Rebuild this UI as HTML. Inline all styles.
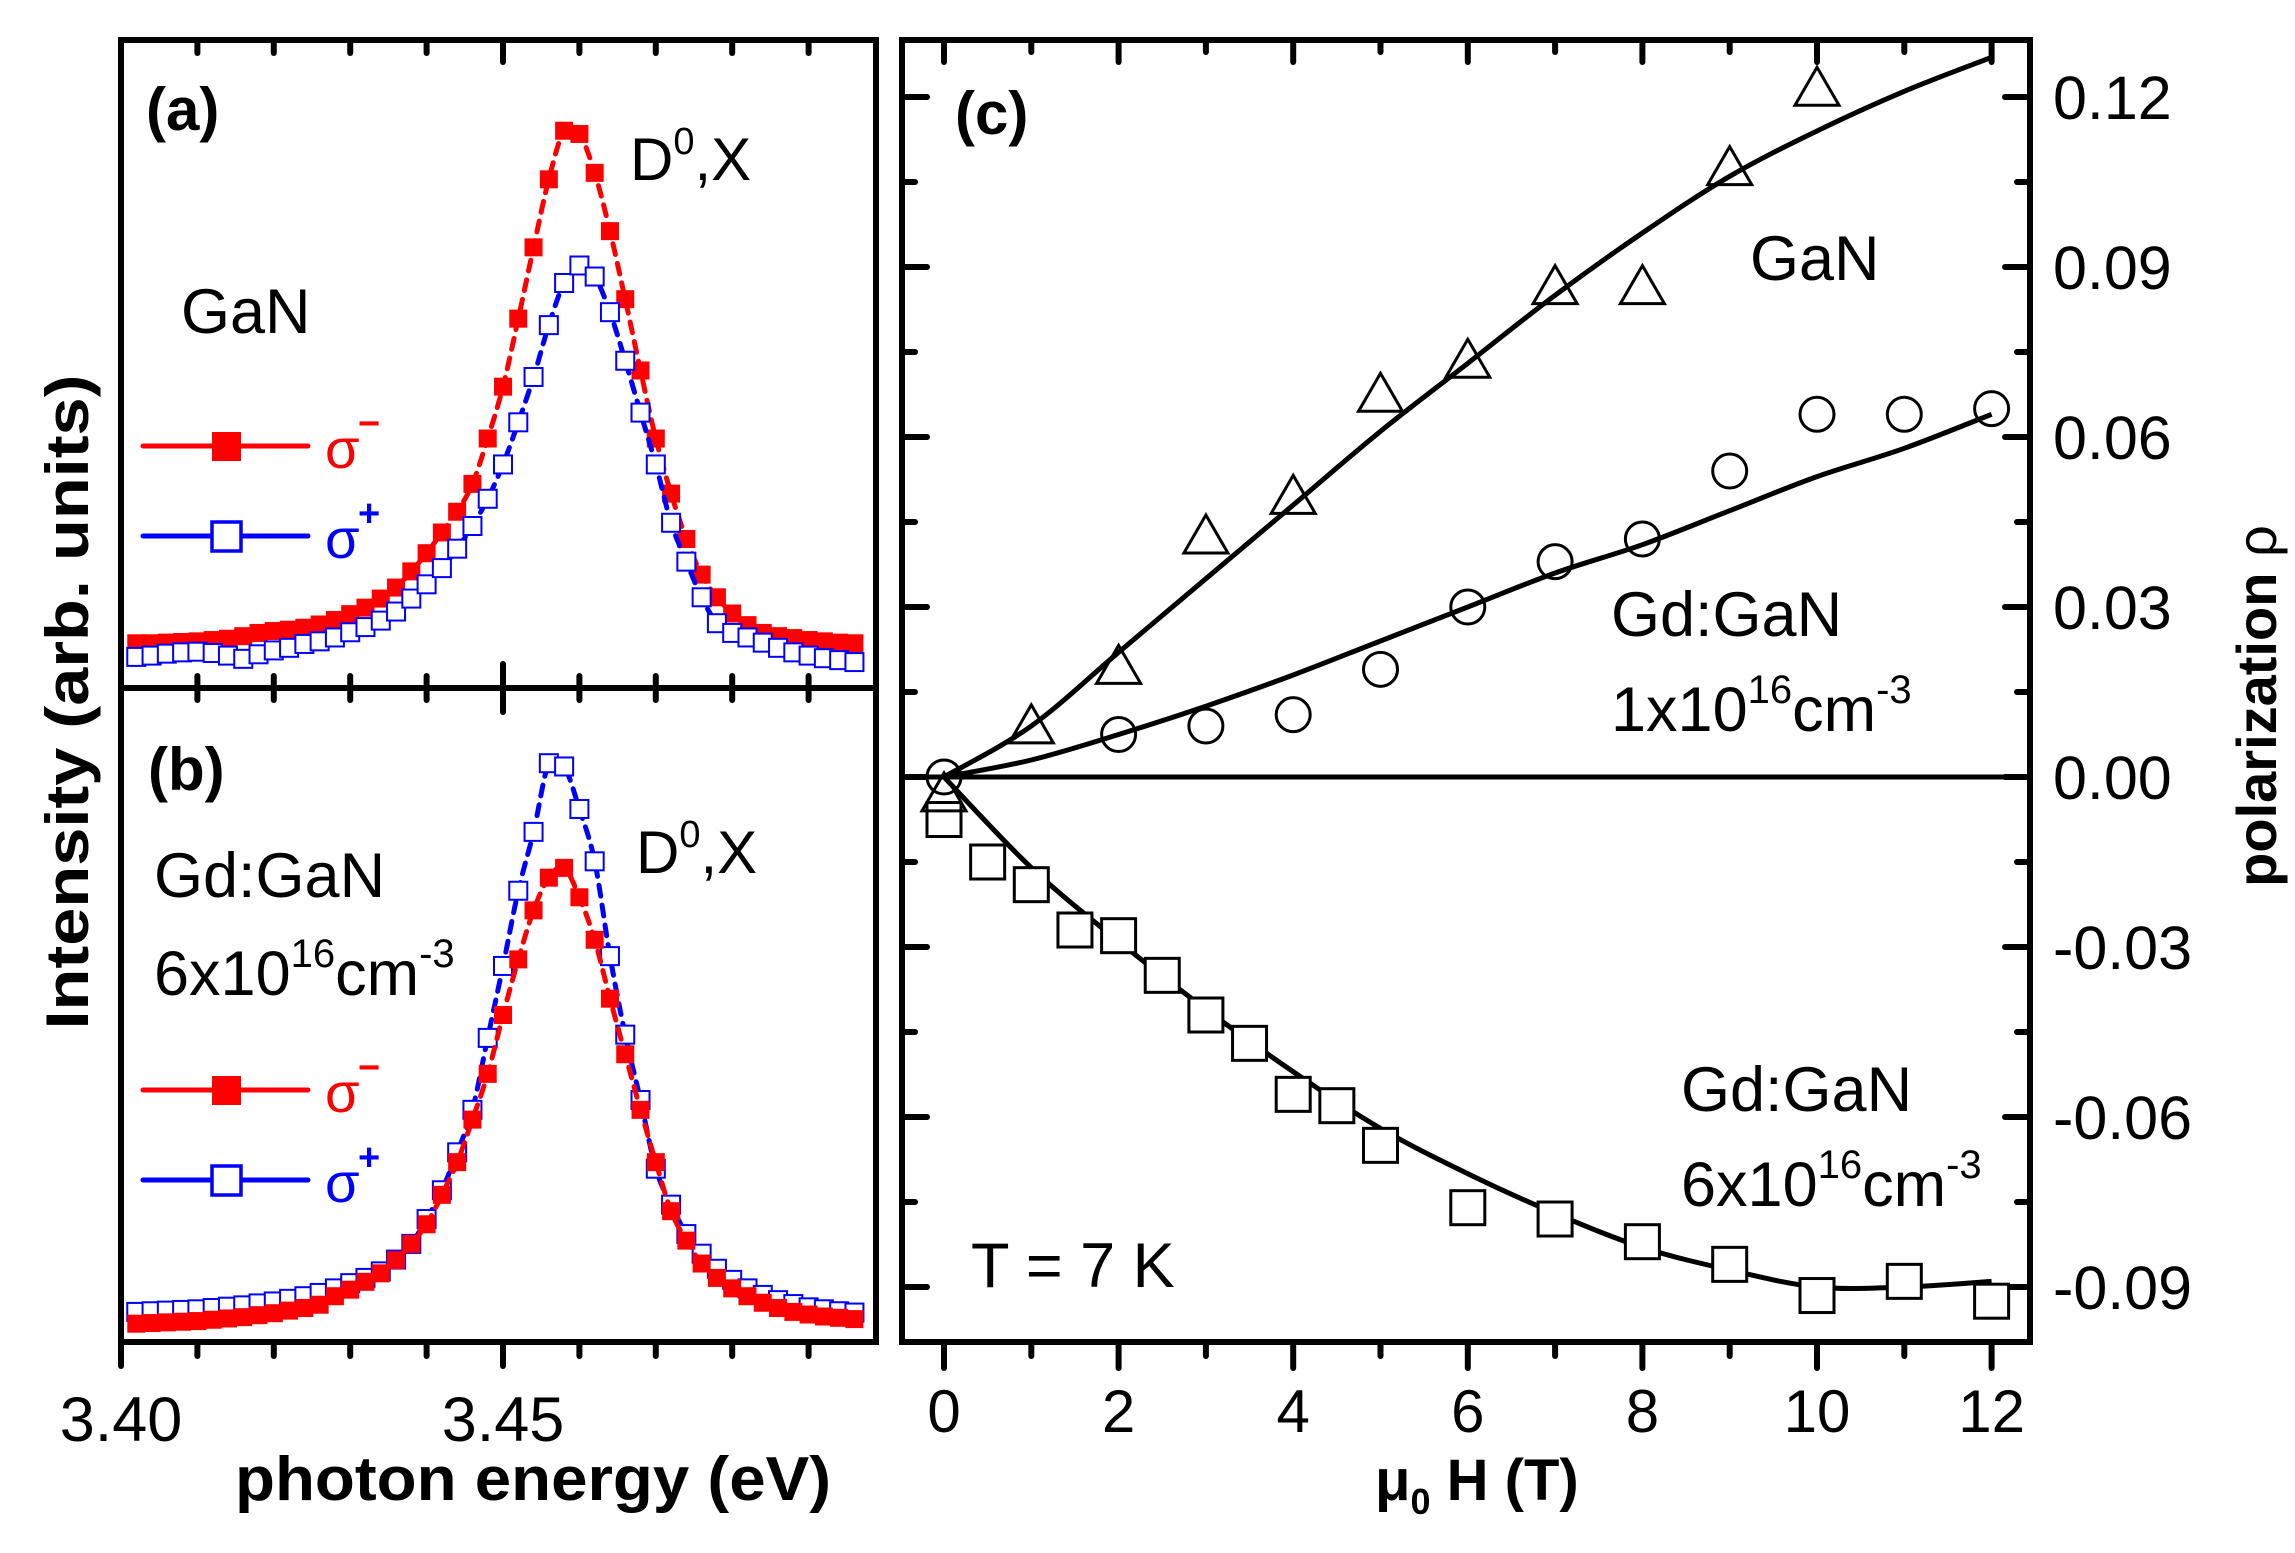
<!DOCTYPE html>
<html><head><meta charset="utf-8"><style>
html,body{margin:0;padding:0;background:#fff;}
svg{display:block;font-family:"Liberation Sans",Arial,sans-serif;}
</style></head><body>
<svg id="fig" width="2295" height="1553" viewBox="0 0 2295 1553" xmlns="http://www.w3.org/2000/svg">
<defs>
<clipPath id="clipA"><rect x="124" y="43" width="749" height="642"/></clipPath>
<clipPath id="clipB"><rect x="124" y="691" width="749" height="648"/></clipPath>
</defs>
<g id="layer"></g>
<text x="146" y="130" font-size="60" font-weight="bold">(a)</text>
<text x="630" y="180" font-size="60">D<tspan font-size="38" dy="-26">0</tspan><tspan dy="26">,X</tspan></text>
<text x="181" y="333" font-size="63">GaN</text>
<text x="148" y="790" font-size="60" font-weight="bold">(b)</text>
<text x="636" y="873" font-size="60">D<tspan font-size="38" dy="-26">0</tspan><tspan dy="26">,X</tspan></text>
<text x="154" y="897" font-size="63">Gd:GaN</text>
<text x="154" y="995" font-size="63">6x10<tspan font-size="40" dy="-28">16</tspan><tspan dy="28">cm</tspan><tspan font-size="40" dy="-28">-3</tspan></text>
<text font-size="60" font-weight="bold" transform="translate(88,702) rotate(-90)" text-anchor="middle" textLength="655" lengthAdjust="spacingAndGlyphs">Intensity (arb. units)</text>
<text x="235" y="1500" font-size="62" font-weight="bold" textLength="596" lengthAdjust="spacingAndGlyphs">photon energy (eV)</text>
<text x="955" y="134" font-size="60" font-weight="bold">(c)</text>
<text x="1750" y="280" font-size="63">GaN</text>
<text x="1611" y="636" font-size="63">Gd:GaN</text>
<text x="1611" y="731" font-size="63">1x10<tspan font-size="40" dy="-28">16</tspan><tspan dy="28">cm</tspan><tspan font-size="40" dy="-28">-3</tspan></text>
<text x="1681" y="1111" font-size="63">Gd:GaN</text>
<text x="1681" y="1206" font-size="63">6x10<tspan font-size="40" dy="-28">16</tspan><tspan dy="28">cm</tspan><tspan font-size="40" dy="-28">-3</tspan></text>
<text x="971" y="1287" font-size="63">T = 7 K</text>
<text x="1375" y="1500" font-size="58" font-weight="bold">μ<tspan font-size="36" dy="14">0</tspan><tspan dy="-14"> H (T)</tspan></text>
<text font-size="56" font-weight="bold" transform="translate(2276,706) rotate(-90)" text-anchor="middle">polarization <tspan font-weight="normal">ρ</tspan></text>
</svg>
<script>
// ---------- data: panels (a) and (b) ----------
const energies = [3.402,3.404,3.406,3.408,3.410,3.412,3.414,3.416,3.418,3.420,3.422,3.424,3.426,3.428,3.430,3.432,3.434,3.436,3.438,3.440,3.442,3.444,3.446,3.448,3.450,3.452,3.454,3.456,3.458,3.460,3.462,3.464,3.466,3.468,3.470,3.472,3.474,3.476,3.478,3.480,3.482,3.484,3.486,3.488,3.490,3.492,3.494,3.496];
const redA = [0.069,0.069,0.070,0.071,0.072,0.074,0.076,0.080,0.085,0.088,0.090,0.093,0.098,0.105,0.114,0.124,0.138,0.155,0.180,0.208,0.240,0.272,0.315,0.385,0.465,0.570,0.680,0.785,0.860,0.855,0.795,0.705,0.600,0.490,0.385,0.300,0.230,0.175,0.140,0.115,0.097,0.085,0.080,0.077,0.074,0.072,0.070,0.069];
const blueA = [0.048,0.050,0.053,0.055,0.056,0.054,0.050,0.045,0.052,0.058,0.062,0.068,0.072,0.078,0.086,0.094,0.104,0.118,0.138,0.160,0.185,0.215,0.250,0.292,0.345,0.410,0.480,0.560,0.625,0.652,0.635,0.580,0.505,0.425,0.345,0.255,0.195,0.140,0.100,0.085,0.078,0.070,0.062,0.055,0.050,0.046,0.043,0.040];
const blueB = [0.046,0.047,0.048,0.049,0.050,0.052,0.054,0.056,0.059,0.062,0.066,0.070,0.075,0.082,0.090,0.098,0.108,0.126,0.150,0.188,0.232,0.290,0.355,0.465,0.575,0.690,0.780,0.885,0.880,0.815,0.735,0.590,0.470,0.370,0.265,0.210,0.165,0.135,0.112,0.095,0.082,0.072,0.064,0.058,0.053,0.050,0.047,0.045];
const redB = [0.028,0.029,0.030,0.031,0.032,0.034,0.036,0.038,0.041,0.044,0.048,0.052,0.057,0.070,0.080,0.092,0.105,0.125,0.150,0.180,0.225,0.275,0.340,0.410,0.500,0.585,0.660,0.710,0.725,0.680,0.615,0.525,0.440,0.355,0.275,0.200,0.155,0.120,0.098,0.082,0.070,0.060,0.052,0.046,0.042,0.039,0.037,0.035];
const energyTicks = [3.40,3.41,3.42,3.43,3.44,3.45,3.46,3.47,3.48,3.49];
const energyTickLabels = ["3.40","3.45"];
const energyLabelValues = [3.40,3.45];

// ---------- data: panel (c) ----------
const fieldTri = [0,1,2,3,4,5,6,7,8,9,10];
const polTri = [-0.0035,0.0085,0.019,0.042,0.049,0.067,0.073,0.086,0.086,0.107,0.121];
const fieldCirc = [0,2,3,4,5,6,7,8,9,10,11,12];
const polCirc = [0,0.0075,0.009,0.011,0.019,0.030,0.038,0.042,0.054,0.064,0.064,0.065];
const fieldSq = [0,0.5,1,1.5,2,2.5,3,3.5,4,4.5,5,6,7,8,9,10,11,12];
const polSq = [-0.0075,-0.015,-0.019,-0.027,-0.028,-0.035,-0.042,-0.047,-0.056,-0.058,-0.065,-0.076,-0.078,-0.082,-0.086,-0.0915,-0.089,-0.0925];
const fitField = [0,1,2,3,4,5,6,7,8,9,10,11,12];
const fitGaN = [0,0.009,0.022,0.035,0.048,0.061,0.073,0.085,0.096,0.106,0.114,0.121,0.127];
const fitGd1 = [0,0.003,0.0075,0.0125,0.018,0.024,0.030,0.036,0.041,0.047,0.053,0.058,0.064];
const fitGd6 = [0,-0.016,-0.029,-0.041,-0.052,-0.062,-0.070,-0.077,-0.083,-0.087,-0.090,-0.090,-0.089];
const fieldTicks = [0,1,2,3,4,5,6,7,8,9,10,11,12];
const fieldTickLabels = ["0","2","4","6","8","10","12"];
const polTicks = [0.12,0.105,0.09,0.075,0.06,0.045,0.03,0.015,0,-0.015,-0.03,-0.045,-0.06,-0.075,-0.09];
const polTickLabels = ["0.12","0.09","0.06","0.03","0.00","-0.03","-0.06","-0.09"];
const polLabelValues = [0.12,0.09,0.06,0.03,0,-0.03,-0.06,-0.09];

// ---------- axes ----------
const xE = e => 121 + (e - 3.40) * 7640;
const yA = v => 688 - v * 648;
const yB = v => 1342 - v * 654;
const xT = t => 944 + t * 87.3;
const yP = v => 777 - v * 5667;

const NS = "http://www.w3.org/2000/svg";
const layer = document.getElementById("layer");
function mk(tag, attrs, parent) {
  const el = document.createElementNS(NS, tag);
  for (const k in attrs) el.setAttribute(k, attrs[k]);
  (parent || layer).appendChild(el);
  return el;
}
function line(x1,y1,x2,y2,w,c){return mk("line",{x1,y1,x2,y2,stroke:c||"#000","stroke-width":w||6,"stroke-linecap":"round"});}
function smoothPath(P){
  let d = "M"+P[0][0].toFixed(1)+","+P[0][1].toFixed(1);
  for (let i=0;i<P.length-1;i++){
    const p0=P[Math.max(0,i-1)],p1=P[i],p2=P[i+1],p3=P[Math.min(P.length-1,i+2)];
    const c1=[p1[0]+(p2[0]-p0[0])/6,p1[1]+(p2[1]-p0[1])/6];
    const c2=[p2[0]-(p3[0]-p1[0])/6,p2[1]-(p3[1]-p1[1])/6];
    d+=" C"+c1[0].toFixed(1)+","+c1[1].toFixed(1)+" "+c2[0].toFixed(1)+","+c2[1].toFixed(1)+" "+p2[0].toFixed(1)+","+p2[1].toFixed(1);
  }
  return d;
}

// ---------- frames ----------
let f;
f = mk("rect",{x:121,y:40,width:755,height:1302,fill:"none",stroke:"#000","stroke-width":6});


f = line(121,688,876,688,6);


f = mk("rect",{x:902,y:40,width:1128,height:1302,fill:"none",stroke:"#000","stroke-width":6});



energyTicks.forEach(e => {
  const x = xE(e); const major = Math.abs(e-3.45)<1e-6 || Math.abs(e-3.40)<1e-6;
  let t;
  if (e > 3.401) {
    t = line(x,40,x,major?62:53,6);
    
    
    t = line(x,major?664:676,x,major?712:700,6);
    
    
  }
  t = line(x,1342,x,major?1366:1356,6);
  
  
});
energyLabelValues.forEach((e,i) => {
  const t = mk("text",{x:xE(e),y:1441,"font-size":63,"text-anchor":"middle"});
  t.textContent = energyTickLabels[i];
  
  
});

// ---------- spectra ----------
function spectrum(vals, yf, color, filled, clip, name) {
  const g = mk("g",{"clip-path":"url(#"+clip+")"});
  
  
  const P = energies.map((e,i)=>[xE(e), yf(vals[i])]);
  const pl = mk("path",{d:smoothPath(P),fill:"none",stroke:color,"stroke-width":5,"stroke-dasharray":"11 9","stroke-linecap":"round"},g);
  
  
  energies.forEach((e,i) => {
    const s = 18;
    const r = mk("rect",{x:xE(e)-s/2,y:yf(vals[i])-s/2,width:s,height:s,
      fill: filled?color:"#fff", stroke: filled?"none":color, "stroke-width": filled?0:2}, g);
    
    
  });
}
spectrum(redA, yA, "#ff0000", true, "clipA", "series-a-sigma-minus");
spectrum(blueA, yA, "#0000ff", false, "clipA", "series-a-sigma-plus");
spectrum(blueB, yB, "#0000ff", false, "clipB", "series-b-sigma-plus");
spectrum(redB, yB, "#ff0000", true, "clipB", "series-b-sigma-minus");

function legend(y, color, filled, sup, name) {
  const g = mk("g",{});
  
  
  mk("line",{x1:143,y1:y,x2:308,y2:y,stroke:color,"stroke-width":5,"stroke-linecap":"round"},g);
  mk("rect",{x:212,y:y-14,width:29,height:29,fill:filled?color:"#fff",stroke:filled?"none":color,"stroke-width":filled?0:3.5},g);
  const t = mk("text",{x:325,y:y+22,"font-size":56,fill:color},g);
  t.textContent = "σ";
  const s = mk("text",{x:358,y:y-10,"font-size":38,fill:color,"font-weight":"bold"},g);
  s.textContent = sup;
}
legend(446, "#ff0000", true, "−", "legend-a-sigma-minus");
legend(536, "#0000ff", false, "+", "legend-a-sigma-plus");
legend(1090, "#ff0000", true, "−", "legend-b-sigma-minus");
legend(1180, "#0000ff", false, "+", "legend-b-sigma-plus");

// ---------- panel c axes ----------
fieldTicks.forEach(t => {
  const x = xT(t); const major = t % 2 === 0;
  let k = line(x,1342,x,major?1368:1356,6);
  
  
  k = line(x,40,x,major?62:52,6);
  
  
});
fieldTickLabels.forEach((lab) => {
  const t = mk("text",{x:xT(parseFloat(lab)),y:1432,"font-size":60,"text-anchor":"middle"});
  t.textContent = lab;
  
  
});
polTicks.forEach((v,i) => {
  const y = yP(v); const major = i % 2 === 0;
  let k = line(902,y,major?927:915,y,6);
  
  
  k = line(2030,y,major?2005:2017,y,6);
  
  
});
polLabelValues.forEach((v,i) => {
  const t = mk("text",{x:2053,y:yP(v)+22,"font-size":61});
  t.textContent = polTickLabels[i];
  
  
});
let z = line(902,yP(0),2030,yP(0),5);



function fit(vals, name) {
  const P = fitField.map((t,i)=>[xT(t), yP(vals[i])]);
  const p = mk("path",{d:smoothPath(P),fill:"none",stroke:"#000","stroke-width":5});
  
  
}
fit(fitGaN, "fit-gan");
fit(fitGd1, "fit-gd-1e16");
fit(fitGd6, "fit-gd-6e16");

fieldSq.forEach((t,i) => {
  const s = 34;
  const r = mk("rect",{x:xT(t)-s/2,y:yP(polSq[i])-s/2,width:s,height:s,fill:"#fff",stroke:"#000","stroke-width":3});
  
  
});
fieldCirc.forEach((t,i) => {
  const c = mk("circle",{cx:xT(t),cy:yP(polCirc[i]),r:17,fill:"none",stroke:"#000","stroke-width":3});
  
  
});
fieldTri.forEach((t,i) => {
  const x = xT(t), y = yP(polTri[i]);
  const p = mk("polygon",{points:`${x},${y-24} ${x-22},${y+14} ${x+22},${y+14}`,fill:"none",stroke:"#000","stroke-width":3,"stroke-linejoin":"miter"});
  
  
});
</script>
</body></html>
